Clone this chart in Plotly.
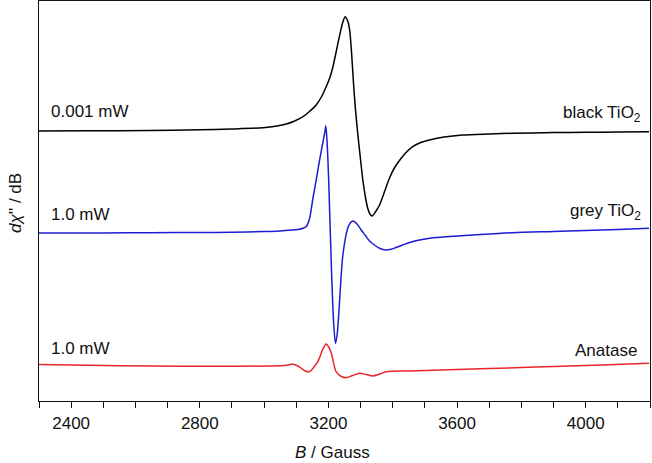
import plotly.graph_objects as go

# EPR spectra: field B (Gauss) and dchi''/dB (arb. units, baseline ~0)
b_black = [2300, 2450, 2645, 2800, 2900, 2996, 3040, 3069, 3095, 3121, 3141, 3162, 3178,
           3193, 3204, 3214, 3224, 3234, 3244, 3252, 3260, 3266, 3272, 3278, 3284, 3291,
           3299, 3307, 3315, 3322, 3329, 3336, 3348, 3359, 3374, 3390, 3405, 3421, 3440,
           3462, 3487, 3514, 3560, 3617, 3700, 3772, 3900, 4000, 4100, 4197]
i_black = [0, 0.2, 0.6, 1.2, 2, 3.3, 5, 7, 10, 14.3, 19.5, 26, 34,
           44.3, 53, 64.3, 79, 94.3, 108, 114.3, 110, 101, 78, 47.7, 22, -2,
           -26, -49, -66, -77, -83, -85, -80, -74, -61, -47, -37, -29.5, -22,
           -15.7, -11.5, -9, -6, -4, -3, -2.3, -1.6, -1.3, -1, -0.7]

b_blue = [2300, 2500, 2645, 2800, 2900, 3000, 3048, 3080, 3105, 3121, 3131, 3141, 3152,
          3162, 3172, 3183, 3189, 3192, 3196, 3201, 3209, 3216, 3222, 3227, 3232, 3245,
          3260, 3268, 3276, 3289, 3302, 3315, 3328, 3343, 3359, 3379, 3395, 3410, 3431,
          3455, 3483, 3520, 3566, 3650, 3772, 3900, 4000, 4100, 4197]
i_blue = [0, 0, 0.3, 0.5, 0.8, 1.4, 2, 2.8, 3.5, 4.7, 6.5, 14, 35,
          53, 72, 91, 101, 107.3, 90, 51.3, -32, -88.7, -110.3, -102, -82, -22,
          4.7, 10, 12, 9, 3, -2.5, -8, -12, -15.3, -17, -16.3, -14.5, -12,
          -9.3, -7, -5, -3.7, -2, 0.3, 1.5, 2.5, 3.5, 4.7]

b_red = [2300, 2450, 2645, 2850, 3017, 3060, 3090, 3105, 3115, 3128, 3141, 3155, 3167,
         3183, 3193, 3201, 3209, 3216, 3224, 3240, 3255, 3275, 3297, 3318, 3338, 3360,
         3380, 3452, 3550, 3650, 3731, 3900, 4050, 4197]
i_red = [1.5, 0.7, 0, -0.3, 0, 0.5, 1.7, 0, -2, -5, -5.7, -1, 4.3,
         17, 22, 19, 12.7, 3, -5.7, -10.5, -11.7, -9.5, -7.3, -8.5, -10, -8,
         -5.7, -5, -4, -3, -2.3, -0.5, 1, 2.7]

offsets = [270, 168, 35]
colors = ['#000000', '#1c1cd2', '#e8262a']

power_labels = ['0.001 mW', '1.0 mW', '1.0 mW']
sample_labels = ['black TiO<sub>2</sub>', 'grey TiO<sub>2</sub>', 'Anatase']

FONT = 'Liberation Sans, Arial, sans-serif'

fig = go.Figure()
for bb, ii, off, col in zip([b_black, b_blue, b_red], [i_black, i_blue, i_red], offsets, colors):
    fig.add_trace(go.Scatter(
        x=bb, y=[v + off for v in ii],
        mode='lines',
        line=dict(color=col, width=1.5, shape='spline', smoothing=0.8),
        hoverinfo='skip',
    ))

# labels next to each trace (y in px from top of plot area)
left_y = [112, 215, 348]
right_y = [114, 212, 350]
right_x = [0.9886, 0.9886, 0.982]
for k in range(3):
    fig.add_annotation(x=0.016, y=(401 - left_y[k]) / 400, xref='paper', yref='paper',
                       text=power_labels[k], showarrow=False, xanchor='left', yanchor='middle',
                       font=dict(family=FONT, size=17, color='#111'))
    fig.add_annotation(x=right_x[k], y=(401 - right_y[k]) / 400, xref='paper', yref='paper',
                       text=sample_labels[k], showarrow=False, xanchor='right', yanchor='middle',
                       font=dict(family=FONT, size=17, color='#111'))

# axis titles as annotations so they sit where the reference has them
fig.add_annotation(x=0.48, y=-0.1275, xref='paper', yref='paper',
                   text='<i>B</i> / Gauss', showarrow=False, xanchor='center', yanchor='middle',
                   font=dict(family=FONT, size=17, color='#111'))
fig.add_annotation(x=-0.0392, y=0.495, xref='paper', yref='paper',
                   text="<i>dχ</i>'' / dB", showarrow=False, textangle=-90,
                   xanchor='center', yanchor='middle',
                   font=dict(family=FONT, size=17, color='#111'))

fig.update_layout(
    width=652, height=463,
    margin=dict(l=39, r=2, t=1, b=62),
    showlegend=False,
    plot_bgcolor='white',
    paper_bgcolor='white',
    font=dict(family=FONT, size=17, color='#111'),
    xaxis=dict(range=[2300, 4200], tick0=2400, dtick=400,
               ticks='outside', ticklen=6, tickwidth=1.2, tickcolor='#111',
               minor=dict(dtick=100, tick0=2300, ticks='outside', ticklen=6, tickwidth=1.2, tickcolor='#111'),
               showline=True, linecolor='#111', linewidth=1.3, mirror=True,
               showgrid=False, zeroline=False, automargin=False),
    yaxis=dict(range=[0, 400], showticklabels=False, ticks='',
               showline=True, linecolor='#111', linewidth=1.3, mirror=True,
               showgrid=False, zeroline=False, automargin=False),
)

fig.write_html('out.html', config={'displayModeBar': False},
               post_script="document.body.style.margin='0';")
